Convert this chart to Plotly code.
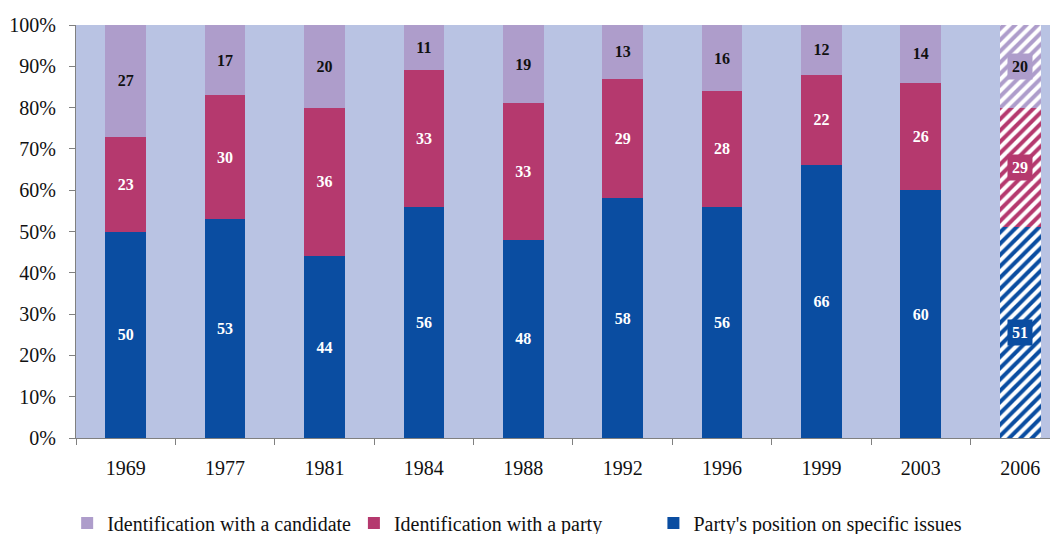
import plotly.graph_objects as go

years = ["1969", "1977", "1981", "1984", "1988", "1992", "1996", "1999", "2003", "2006"]
issues = [50, 53, 44, 56, 48, 58, 56, 66, 60, 51]
party = [23, 30, 36, 33, 33, 29, 28, 22, 26, 29]
candidate = [27, 17, 20, 11, 19, 13, 16, 12, 14, 20]
y_ticks = [0, 10, 20, 30, 40, 50, 60, 70, 80, 90, 100]

names = ["Party's position on specific issues", "Identification with a party", "Identification with a candidate"]
colors = ["#0A4DA1", "#B5396E", "#AE9DCB"]
text_colors = ["white", "white", "#111111"]
series = [issues, party, candidate]
legend_ids = ["legend3", "legend2", "legend"]
legend_x = [0.588, 0.283, -0.009]

FONT = "Liberation Serif"
fig = go.Figure()

solid_x = years[:-1]
for name, vals, col, tc, lg in zip(names, series, colors, text_colors, legend_ids):
    fig.add_trace(go.Bar(
        x=solid_x, y=vals[:-1], name=name, legendgroup=name, legend=lg,
        marker=dict(color=col, line=dict(width=0)),
        text=["<b>%d</b>" % v for v in vals[:-1]], textposition="inside",
        insidetextanchor="middle", textangle=0,
        textfont=dict(family=FONT, size=16, color=tc),
        width=0.41,
    ))

for name, vals, col, tc in zip(names, series, colors, text_colors):
    fig.add_trace(go.Bar(
        x=[years[-1]], y=[vals[-1]], name=name, legendgroup=name, showlegend=False,
        marker=dict(color="white", line=dict(width=0),
                    pattern=dict(shape="/", fgcolor=col, bgcolor="white", size=8, solidity=0.5,
                                 fillmode="replace")),
        width=0.41,
    ))

# labelled boxes for the 2006 bar
last_idx = len(years) - 1
base = 0
for vals, col, tc in zip(series, colors, text_colors):
    v = vals[-1]
    fig.add_annotation(
        x=last_idx, y=base + v / 2, xref="x", yref="y", text="<b>%d</b>" % v, showarrow=False,
        font=dict(family=FONT, size=16, color=tc), bgcolor=col, borderpad=4,
    )
    base += v

legend_common = dict(orientation="h", xanchor="left", y=-0.206, yanchor="middle",
                     font=dict(family=FONT, size=20), itemwidth=30, bgcolor="rgba(0,0,0,0)")
legends = {lg: dict(x=lx, **legend_common) for lg, lx in zip(legend_ids, legend_x)}

fig.update_layout(
    barmode="stack",
    width=1050, height=526,
    margin=dict(l=68, r=0, t=17, b=96, autoexpand=False),
    paper_bgcolor="white",
    plot_bgcolor="#B9C3E3",
    font=dict(family=FONT, size=20, color="#111111"),
    xaxis=dict(type="category", categoryorder="array", categoryarray=years,
               range=[-0.5, 9.38], showgrid=False, showline=True, linecolor="#808080",
               linewidth=1, ticks="outside", tickson="boundaries", ticklen=6,
               tickcolor="#808080", ticklabelstandoff=12,
               tickfont=dict(family=FONT, size=20)),
    yaxis=dict(range=[0, 100], tickvals=y_ticks, ticktext=["%d%%" % t for t in y_ticks],
               showgrid=False, showline=True, linecolor="#808080", linewidth=1,
               ticks="outside", ticklen=6, tickcolor="#808080", ticklabelstandoff=9,
               tickfont=dict(family=FONT, size=20), zeroline=False),
    **legends,
)

fig.write_html("out.html")
